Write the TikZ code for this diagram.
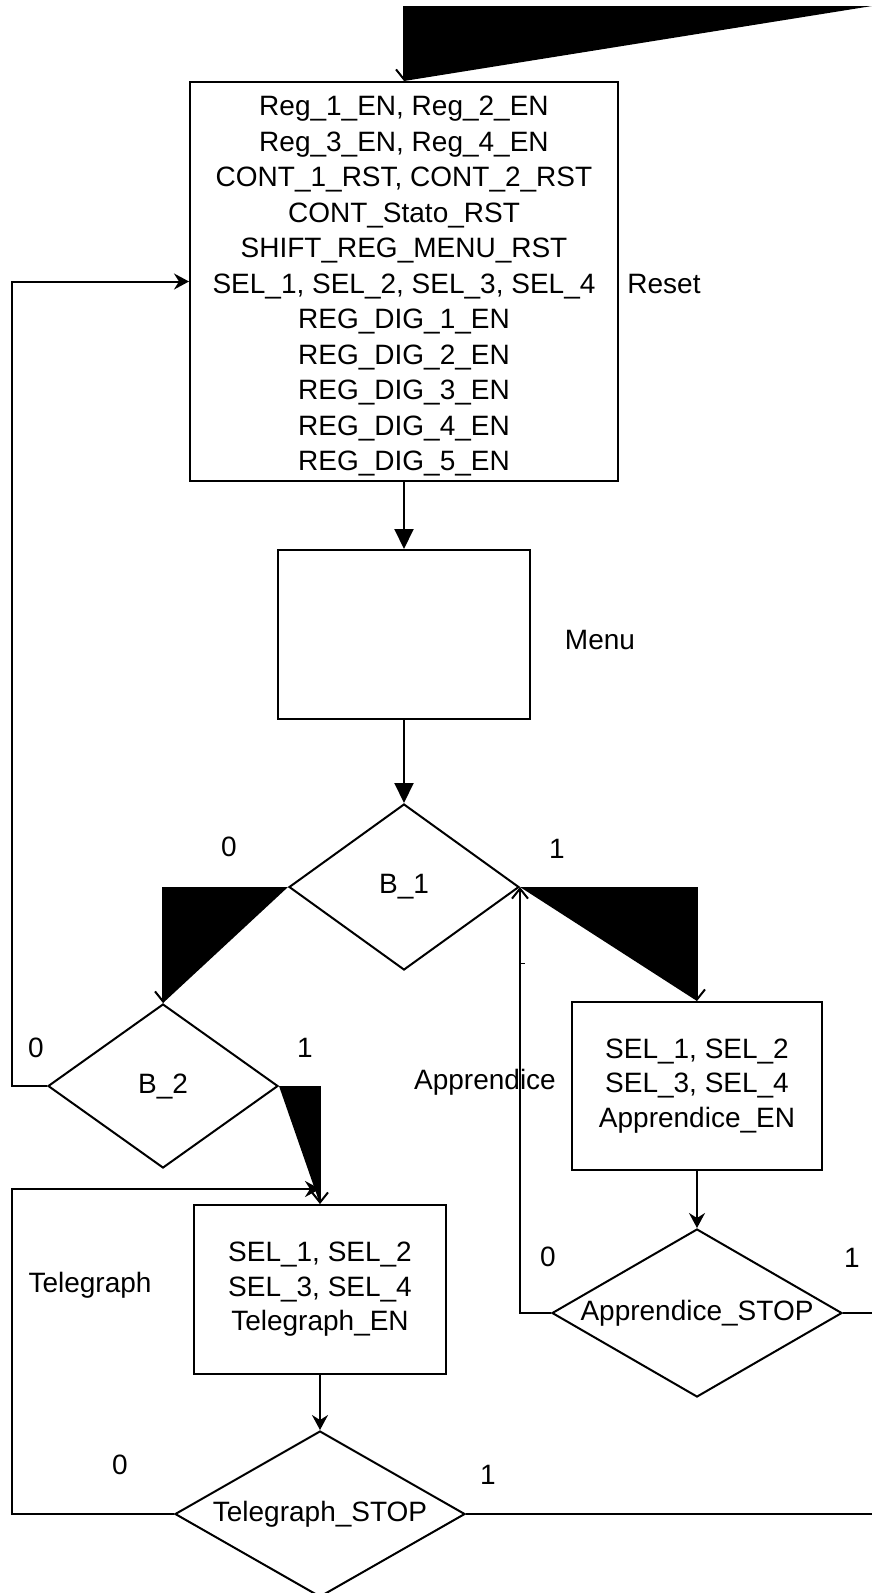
\documentclass[tikz,border=0pt]{standalone}
\usepackage{fontspec}
\setmainfont{Liberation Sans}
\usetikzlibrary{shapes.geometric,arrows.meta}
\begin{document}
\begin{tikzpicture}[x=1pt,y=-1pt, line width=2pt,
  box/.style={draw, rectangle, inner sep=0pt, align=center, font=\fontsize{28}{34.5}\selectfont},
  dec/.style={draw, diamond, inner sep=0pt, font=\fontsize{28}{32}\selectfont},
  lbl/.style={inner sep=0pt, font=\fontsize{28}{32}\selectfont},
  big/.style={-{Triangle[length=20pt,width=19pt]}},
  barb/.style={-{Stealth[length=15pt,width=16pt,inset=5pt]}},
  vee/.style={-{Straight Barb[length=10pt,width=16pt]}},
]
\fill[white] (0,0) rectangle (872,1593);
\useasboundingbox (0,0) rectangle (872,1593);

% boxes
\node[box, minimum width=428pt, minimum height=399pt, font=\fontsize{28}{35.5}\selectfont] (reset) at (404,281.5)
 {\rule{0pt}{29pt}Reg\_1\_EN, Reg\_2\_EN\\Reg\_3\_EN, Reg\_4\_EN\\CONT\_1\_RST, CONT\_2\_RST\\CONT\_Stato\_RST\\SHIFT\_REG\_MENU\_RST\\SEL\_1, SEL\_2, SEL\_3, SEL\_4\\REG\_DIG\_1\_EN\\REG\_DIG\_2\_EN\\REG\_DIG\_3\_EN\\REG\_DIG\_4\_EN\\REG\_DIG\_5\_EN};
\node[box, minimum width=252pt, minimum height=169pt] (menu) at (404,634.5) {};
\node[dec, minimum width=230pt, minimum height=166pt] (b1) at (404,887) {\makebox[0pt]{B\_1}};
\node[dec, minimum width=230pt, minimum height=164pt] (b2) at (163,1086) {\makebox[0pt]{B\_2}};
\node[box, minimum width=250pt, minimum height=168pt] (app) at (697,1086)
 {SEL\_1, SEL\_2\\SEL\_3, SEL\_4\\Apprendice\_EN};
\node[dec, minimum width=290pt, minimum height=168pt] (appstop) at (697,1313) {\makebox[0pt]{Apprendice\_STOP}};
\node[box, minimum width=252pt, minimum height=169pt] (tel) at (320,1289.5)
 {SEL\_1, SEL\_2\\SEL\_3, SEL\_4\\Telegraph\_EN};
\node[dec, minimum width=290pt, minimum height=166pt] (telstop) at (320,1514) {\makebox[0pt]{Telegraph\_STOP}};

% labels
\node[lbl] (lreset) at (664,284) {Reset};
\node[lbl] (lmenu) at (600,640) {Menu};
\node[lbl] (lb1z) at (229,847) {0};
\node[lbl] (lb1o) at (557,849) {1};
\node[lbl] (lb2z) at (36,1048) {0};
\node[lbl] (lb2o) at (305,1048) {1};
\node[lbl] (lapp) at (485,1082) {Apprendice};
\node[lbl] (ltel) at (90,1285) {Telegraph};
\node[lbl] (lasz) at (548,1257) {0};
\node[lbl] (laso) at (852,1258) {1};
\node[lbl] (ltsz) at (120,1465) {0};
\node[lbl] (ltso) at (488,1475) {1};

% coordinates
\coordinate (tl) at (404,6);
\coordinate (tr) at (872,6);
\coordinate (left) at (12,0);
\coordinate (telin) at (320,1189);
\coordinate (aout) at (872,1313);
\coordinate (tout) at (872,1514);

% top incoming connector
\fill (tr) -- (tl) -- (reset.north) -- cycle;
\draw[vee] (tl) -- (reset.north);

% main column
\draw[big] (reset.south) -- (menu.north);
\draw[big] (menu.south) -- (b1.north);

% B_1 branches
\fill (b1.west) -- (b1.west -| b2.north) -- (b2.north) -- cycle;
\draw[vee] (b1.west -| b2.north) -- (b2.north);
\fill (b1.east) -- (b1.east -| app.north) -- (app.north) -- cycle;
\draw[vee] (b1.east -| app.north) -- (app.north);

% B_2 branches
\fill (b2.east) -- (b2.east -| tel.north) -- (tel.north) -- cycle;
\draw[vee] (b2.east -| tel.north) -- (tel.north);
\draw[barb] (b2.west) -- (b2.west -| left) |- (reset.west);

% Apprendice
\draw[barb] (app.south) -- (appstop.north);
\draw[vee] (appstop.west) -| (b1.east);
\draw[line width=1pt] (b1.east |- 0,963) -- ++(5,0);
\draw (appstop.east) -- (aout);

% Telegraph
\draw[barb] (tel.south) -- (telstop.north);
\draw[barb] (telstop.west) -- (telstop.west -| left) |- (telin);
\draw (telstop.east) -- (tout);
\end{tikzpicture}
\end{document}
